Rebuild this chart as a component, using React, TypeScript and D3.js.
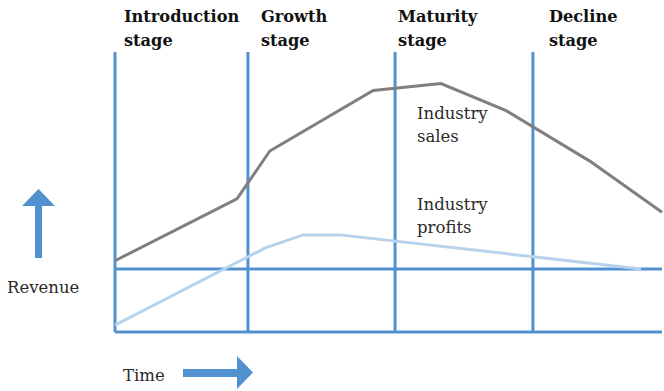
import React from "react";
import * as d3 from "d3";

// stage names and where each stage starts on the time axis (0..100)
const stages = ["Introduction", "Growth", "Maturity", "Decline"];
const stageStart = [0, 24.3, 51.2, 76.4];

// industry sales curve (time, revenue)
const salesT = [0, 22.3, 28.3, 47.2, 59.6, 71.5, 86.8, 100];
const salesV = [1.3, 11.1, 18.7, 28.3, 29.4, 25.1, 17.1, 9.0];

// industry profits curve
const profitT = [0, 27.4, 34.4, 41.1, 96.2];
const profitV = [-8.9, 3.3, 5.4, 5.4, 0];

const W = 664;
const H = 391;
const blue = "#5291cf";
const grey = "#7f7f7f";
const lightBlue = "#b7d3ec";
const headFont = "'DejaVu Serif', serif";
const bodyFont = "'DejaVu Serif', serif";

export default function App() {
  const x = d3.scaleLinear().domain([0, 100]).range([115, 662]);
  const y = d3.scaleLinear().domain([-10, 34.4]).range([332, 52]);

  const line = d3
    .line<[number, number]>()
    .x((d) => x(d[0]))
    .y((d) => y(d[1]));

  const sales = salesT.map((t, i) => [t, salesV[i]] as [number, number]);
  const profits = profitT.map((t, i) => [t, profitV[i]] as [number, number]);

  const labelOffsets = [9, 13, 3, 16];

  return (
    <svg
      width={W}
      height={H}
      style={{ position: "absolute", left: 0, top: 0, background: "#fff" }}
    >
      {/* stage dividers */}
      {stageStart.map((t, i) => (
        <line
          key={"v" + i}
          x1={x(t)}
          x2={x(t)}
          y1={y(34.4)}
          y2={y(-10)}
          stroke={blue}
          strokeWidth={3}
        />
      ))}
      <line x1={x(0)} x2={x(100)} y1={y(-10)} y2={y(-10)} stroke={blue} strokeWidth={3} />
      <line x1={x(0)} x2={x(100)} y1={y(0)} y2={y(0)} stroke={blue} strokeWidth={3} />

      <path d={line(sales) ?? ""} fill="none" stroke={grey} strokeWidth={3} />
      <path d={line(profits) ?? ""} fill="none" stroke={lightBlue} strokeWidth={3} />

      {stages.map((s, i) => (
        <text
          key={"s" + i}
          x={x(stageStart[i]) + labelOffsets[i]}
          fontFamily={headFont}
          fontWeight="bold"
          fontSize={16.2}
          fill="#111"
        >
          <tspan x={x(stageStart[i]) + labelOffsets[i]} y={22}>{s}</tspan>
          <tspan x={x(stageStart[i]) + labelOffsets[i]} y={46}>stage</tspan>
        </text>
      ))}

      <text fontFamily={bodyFont} fontSize={16.5} fill="#2a2a2a">
        <tspan x={417} y={119}>Industry</tspan>
        <tspan x={417} y={142}>sales</tspan>
      </text>
      <text fontFamily={bodyFont} fontSize={16.5} fill="#2a2a2a">
        <tspan x={417} y={210}>Industry</tspan>
        <tspan x={417} y={233}>profits</tspan>
      </text>

      <text x={7} y={293} fontFamily={bodyFont} fontSize={16.5} fill="#2a2a2a">
        Revenue
      </text>
      <text x={123} y={381} fontFamily={bodyFont} fontSize={16.5} fill="#2a2a2a">
        Time
      </text>

      {/* revenue arrow */}
      <rect x={35} y={204} width={7} height={54} fill={blue} />
      <path d="M38.5,189 L55,206 L22,206 Z" fill={blue} />
      {/* time arrow */}
      <rect x={183} y={369} width={56} height={8} fill={blue} />
      <path d="M237,356 L253,372.5 L237,389 Z" fill={blue} />
    </svg>
  );
}
